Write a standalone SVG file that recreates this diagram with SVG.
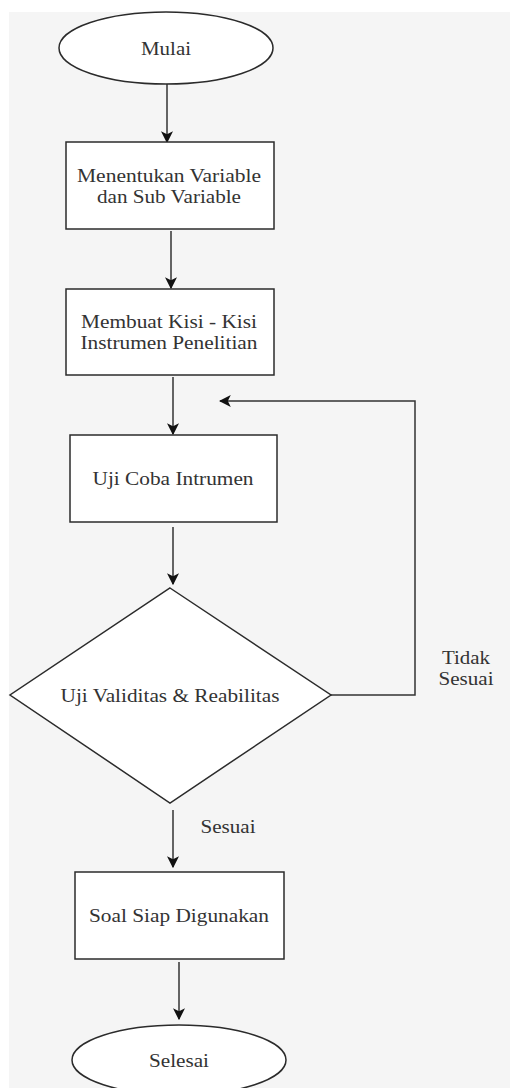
<svg xmlns="http://www.w3.org/2000/svg" width="510" height="1088" viewBox="0 0 510 1088">
<defs>
<style>
.shape{fill:#ffffff;stroke:#2b2b2b;stroke-width:1.5}
.conn{fill:none;stroke:#333333;stroke-width:1.5}
</style>
<marker id="arr" viewBox="0 0 10 10" refX="9" refY="5" markerWidth="12" markerHeight="12" markerUnits="userSpaceOnUse" orient="auto">
<path d="M0,0 L10,5 L0,10 L2.5,5 Z" fill="#111111"/>
</marker>
</defs>
<rect x="0" y="0" width="510" height="1088" fill="#ffffff"/>
<rect x="9" y="12" width="501" height="1076" fill="#f5f5f5"/>
<g font-family="Liberation Serif, Times New Roman, DejaVu Serif, serif" font-size="19" fill="#333333" text-anchor="middle" dominant-baseline="central">
<g id="connectors">
<line class="conn" x1="167" y1="84" x2="167" y2="142" marker-end="url(#arr)"/>
<line class="conn" x1="171" y1="231" x2="171" y2="288" marker-end="url(#arr)"/>
<line class="conn" x1="173" y1="377" x2="173" y2="434" marker-end="url(#arr)"/>
<line class="conn" x1="173" y1="527" x2="173" y2="584" marker-end="url(#arr)"/>
<polyline class="conn" points="331,695 415,695 415,401 220,401" marker-end="url(#arr)"/>
<line class="conn" x1="173" y1="810" x2="173" y2="867" marker-end="url(#arr)"/>
<line class="conn" x1="179" y1="962" x2="179" y2="1019" marker-end="url(#arr)"/>
<text x="466" y="657" textLength="48" lengthAdjust="spacingAndGlyphs">Tidak</text>
<text x="466" y="678" textLength="55" lengthAdjust="spacingAndGlyphs">Sesuai</text>
<text x="228" y="826" textLength="55" lengthAdjust="spacingAndGlyphs">Sesuai</text>
</g>
<g id="mulai">
<ellipse class="shape" cx="166" cy="48" rx="107" ry="36"/>
<text x="166" y="48" textLength="50" lengthAdjust="spacingAndGlyphs">Mulai</text>
</g>
<g id="menentukan">
<rect class="shape" x="66" y="142" width="208" height="87"/>
<text x="169" y="175" textLength="184" lengthAdjust="spacingAndGlyphs">Menentukan Variable</text>
<text x="169" y="196" textLength="144" lengthAdjust="spacingAndGlyphs">dan Sub Variable</text>
</g>
<g id="membuat">
<rect class="shape" x="66" y="289" width="208" height="86"/>
<text x="169" y="321" textLength="176" lengthAdjust="spacingAndGlyphs">Membuat Kisi - Kisi</text>
<text x="169" y="342" textLength="177" lengthAdjust="spacingAndGlyphs">Instrumen Penelitian</text>
</g>
<g id="ujicoba">
<rect class="shape" x="70" y="435" width="207" height="87"/>
<text x="173" y="478" textLength="161" lengthAdjust="spacingAndGlyphs">Uji Coba Intrumen</text>
</g>
<g id="ujivaliditas">
<polygon class="shape" points="170,588 331,695 170,803 10,695"/>
<text x="170" y="695" textLength="219" lengthAdjust="spacingAndGlyphs">Uji Validitas &amp; Reabilitas</text>
</g>
<g id="soal">
<rect class="shape" x="75" y="872" width="209" height="87"/>
<text x="179" y="915" textLength="180" lengthAdjust="spacingAndGlyphs">Soal Siap Digunakan</text>
</g>
<g id="selesai">
<ellipse class="shape" cx="179" cy="1060" rx="107" ry="35"/>
<text x="179" y="1060" textLength="60" lengthAdjust="spacingAndGlyphs">Selesai</text>
</g>
</g>
</svg>
